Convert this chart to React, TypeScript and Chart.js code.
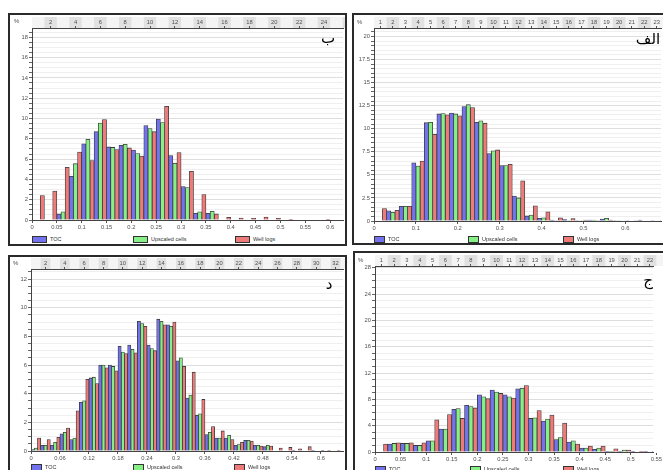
import React, { useEffect, useRef } from 'react';
import { Chart, registerables } from 'chart.js';

Chart.register(...registerables);

const SERIES_NAMES = ['TOC', 'Upscaled cells', 'Well logs'];
const SERIES_COLORS = ['#7373f0', '#86f086', '#ee7a7a'];
const FONT = "'Liberation Sans', Arial, sans-serif";
const LABEL_COLOR = '#505050';

// ---- Panel ب ----
const binB = 0.025;
const tocB = [0, 0, 0.6, 4.3, 7.5, 8.7, 7.2, 7.35, 6.9, 9.3, 9.95, 6.35, 3.3, 0.65, 0.65, 0, 0, 0, 0, 0, 0, 0, 0, 0];
const upscaledB = [0, 0, 0.8, 5.55, 7.95, 9.55, 7.15, 7.45, 6.55, 9.0, 9.6, 5.6, 3.2, 0.8, 0.85, 0, 0, 0, 0, 0, 0, 0, 0, 0];
const wellB = [2.4, 2.85, 5.2, 6.7, 5.85, 9.9, 6.95, 7.1, 6.3, 8.7, 11.2, 6.65, 4.8, 2.5, 0.6, 0.27, 0.2, 0.17, 0.3, 0.17, 0.07, 0, 0, 0.07];
const xLabelsB = [0, 0.05, 0.1, 0.15, 0.2, 0.25, 0.3, 0.35, 0.4, 0.45, 0.5, 0.55, 0.6];
const topLabelsB = [2, 4, 6, 8, 10, 12, 14, 16, 18, 20, 22, 24];
const yLabelsB = [0, 2, 4, 6, 8, 10, 12, 14, 16, 18];

// ---- Panel الف ----
const binA = 0.03;
const tocA = [0, 1.1, 1.6, 6.3, 10.65, 11.6, 11.7, 12.4, 10.7, 7.3, 6.0, 2.7, 0.55, 0.3, 0.1, 0.15, 0.05, 0.1, 0.2, 0.05, 0.05, 0.1, 0.05];
const upscaledA = [0, 0.95, 1.6, 5.95, 10.7, 11.65, 11.6, 12.6, 10.85, 7.6, 6.0, 2.5, 0.65, 0.35, 0.05, 0.05, 0.05, 0.1, 0.3, 0.05, 0, 0, 0];
const wellA = [1.35, 1.15, 1.6, 6.5, 9.4, 11.5, 11.4, 12.3, 10.6, 7.7, 6.15, 4.35, 1.65, 1.0, 0.35, 0.25, 0.1, 0.05, 0.1, 0, 0.05, 0, 0.05];
const xLabelsA = [0, 0.1, 0.2, 0.3, 0.4, 0.5, 0.6];
const topLabelsA = [1, 2, 3, 4, 5, 6, 7, 8, 9, 10, 11, 12, 13, 14, 15, 16, 17, 18, 19, 20, 21, 22, 23];
const yLabelsA = [0, 2.5, 5, 7.5, 10, 12.5, 15, 17.5, 20];

// ---- Panel د ----
const binD = 0.02;
const tocD = [0.1, 0.4, 0.4, 1.2, 0.8, 3.4, 5.1, 6.0, 6.0, 7.3, 7.4, 9.05, 7.4, 9.2, 8.8, 6.3, 3.7, 2.5, 1.15, 0.9, 0.9, 0.4, 0.75, 0.4, 0.3, 0, 0, 0.05, 0, 0.05, 0.05, 0];
const upscaledD = [0.2, 0.4, 0.6, 1.3, 0.9, 3.5, 5.15, 6.0, 5.9, 6.9, 7.1, 8.9, 7.15, 9.05, 8.7, 6.5, 3.9, 2.6, 1.3, 0.9, 1.1, 0.45, 0.75, 0.4, 0.4, 0, 0, 0, 0, 0, 0, 0];
const wellD = [0.9, 0.8, 0.95, 1.6, 2.8, 5.0, 4.7, 5.8, 5.6, 6.8, 6.85, 8.7, 7.0, 8.8, 9.0, 5.9, 5.5, 3.6, 1.7, 1.4, 0.8, 0.6, 0.7, 0.35, 0.35, 0.2, 0.25, 0.15, 0.3, 0, 0.05, 0.05];
const xLabelsD = [0, 0.06, 0.12, 0.18, 0.24, 0.3, 0.36, 0.42, 0.48, 0.54, 0.6];
const topLabelsD = [2, 4, 6, 8, 10, 12, 14, 16, 18, 20, 22, 24, 26, 28, 30, 32];
const yLabelsD = [0, 2, 4, 6, 8, 10, 12];

// ---- Panel ج ----
const binJ = 0.025;
const tocJ = [0, 1.2, 1.3, 1.0, 1.7, 3.5, 6.5, 7.1, 8.7, 9.4, 8.7, 9.6, 5.1, 4.7, 1.9, 1.5, 0.6, 0.4, 0.1, 0.1, 0.05, 0.1];
const upscaledJ = [0, 1.3, 1.3, 1.0, 1.7, 3.5, 6.6, 6.9, 8.4, 9.1, 8.4, 9.7, 5.2, 5.0, 2.2, 1.7, 0.6, 0.6, 0.05, 0.3, 0, 0];
const wellJ = [1.2, 1.4, 1.4, 1.4, 4.9, 5.7, 5.1, 6.7, 8.1, 8.9, 8.2, 10.1, 6.3, 5.6, 4.4, 1.2, 0.9, 0.9, 0.5, 0.3, 0.05, 0.05];
const xLabelsJ = [0, 0.05, 0.1, 0.15, 0.2, 0.25, 0.3, 0.35, 0.4, 0.45, 0.5, 0.55];
const topLabelsJ = [1, 2, 3, 4, 5, 6, 7, 8, 9, 10, 11, 12, 13, 14, 15, 16, 17, 18, 19, 20, 21, 22];
const yLabelsJ = [0, 4, 8, 12, 16, 20, 24, 28];

type PanelDef = {
  key: string;
  letter: string;
  box: { x: number; y: number; w: number; h: number };
  canvas: { x: number; y: number; w: number; h: number };
  x0: number; ppu: number; right: number;
  yZero: number; ppy: number; top: number; stripTop: number;
  bin: number;
  series: number[][];
  xLabels: number[]; topLabels: number[]; yLabels: number[]; yMinor: number;
  legendXs: number[]; legendY: number; legendBoxW: number;
  letterPos: { cx: number; cy: number };
  pct: { x: number; y: number };
};

const PANELS: PanelDef[] = [
  {
    key: 'b', letter: 'ب',
    box: { x: 8, y: 13, w: 339, h: 233 },
    canvas: { x: 10, y: 15, w: 335, h: 218 },
    x0: 32, ppu: 497, right: 343, yZero: 220, ppy: 10.15, top: 28, stripTop: 17,
    bin: binB, series: [tocB, upscaledB, wellB],
    xLabels: xLabelsB, topLabels: topLabelsB, yLabels: yLabelsB, yMinor: 0.5,
    legendXs: [32, 133, 235], legendY: 235, legendBoxW: 15,
    letterPos: { cx: 328, cy: 42 }, pct: { x: 14, y: 17 },
  },
  {
    key: 'a', letter: 'الف',
    box: { x: 352, y: 13, w: 330, h: 232 },
    canvas: { x: 352, y: 15, w: 311, h: 220 },
    x0: 374, ppu: 419, right: 661, yZero: 221, ppy: 9.23, top: 28, stripTop: 17,
    bin: binA, series: [tocA, upscaledA, wellA],
    xLabels: xLabelsA, topLabels: topLabelsA, yLabels: yLabelsA, yMinor: 0.5,
    legendXs: [374, 468, 563], legendY: 235, legendBoxW: 11,
    letterPos: { cx: 648, cy: 43 }, pct: { x: 357, y: 18 },
  },
  {
    key: 'd', letter: 'د',
    box: { x: 8, y: 255, w: 339, h: 240 },
    canvas: { x: 10, y: 257, w: 335, h: 215 },
    x0: 31, ppu: 483.3, right: 343, yZero: 451, ppy: 14.33, top: 269, stripTop: 258,
    bin: binD, series: [tocD, upscaledD, wellD],
    xLabels: xLabelsD, topLabels: topLabelsD, yLabels: yLabelsD, yMinor: 0.5,
    legendXs: [31, 133, 234], legendY: 463, legendBoxW: 11,
    letterPos: { cx: 329, cy: 288 }, pct: { x: 13, y: 259 },
  },
  {
    key: 'j', letter: 'ج',
    box: { x: 353, y: 251, w: 330, h: 240 },
    canvas: { x: 353, y: 253, w: 310, h: 215 },
    x0: 375, ppu: 526, right: 661, yZero: 452, ppy: 6.58, top: 266, stripTop: 255,
    bin: binJ, series: [tocJ, upscaledJ, wellJ],
    xLabels: xLabelsJ, topLabels: topLabelsJ, yLabels: yLabelsJ, yMinor: 1,
    legendXs: [375, 470, 563], legendY: 465, legendBoxW: 11,
    letterPos: { cx: 648, cy: 284 }, pct: { x: 358, y: 256 },
  },
];

const fmt = (v: number) => String(parseFloat(v.toFixed(4)));

const stripPlugin = {
  id: 'strip',
  beforeDraw(chart: any, _args: any, opts: any) {
    const s = chart.scales.xTop;
    if (!s) return;
    const ctx = chart.ctx;
    const bin = opts.bin as number;
    ctx.save();
    ctx.fillStyle = '#f4f4f4';
    ctx.fillRect(s.left, s.top, chart.width - s.left, s.bottom - s.top);
    const n = Math.ceil(s.max / bin) + 2;
    ctx.fillStyle = '#e1e1e1';
    for (let i = 0; i < n; i++) {
      if ((i + 1) % 2 === 0) {
        const a = s.getPixelForValue(i * bin);
        const b = Math.min(s.getPixelForValue((i + 1) * bin), chart.width);
        if (b > a) ctx.fillRect(a, s.top, b - a, s.bottom - s.top);
      }
    }
    ctx.restore();
  },
};

function Panel({ p }: { p: PanelDef }) {
  const ref = useRef<HTMLCanvasElement | null>(null);
  useEffect(() => {
    const canvas = ref.current;
    if (!canvas) return;
    const xMax = (p.right - p.x0) / p.ppu;
    const yMax = (p.yZero - p.top) / p.ppy;
    const yTicks: number[] = [];
    for (let k = 0; k * p.yMinor <= yMax + 1e-9; k++) yTicks.push(Number((k * p.yMinor).toFixed(4)));
    const isMajor = (v: number) => p.yLabels.some((m) => Math.abs(m - v) < 1e-6);
    const font = { family: FONT, size: 5.8 };
    const pad = {
      left: 0,
      top: p.stripTop - p.canvas.y,
      right: p.canvas.x + p.canvas.w - p.right,
      bottom: p.canvas.y + p.canvas.h - (p.yZero + 12),
    };
    const chart = new Chart(canvas, {
      type: 'bar',
      data: {
        datasets: p.series.map((vals, si) => ({
          label: SERIES_NAMES[si],
          data: vals.map((v, i) => ({ x: (i + 0.5) * p.bin, y: v > 0 ? v : null })),
          backgroundColor: SERIES_COLORS[si],
          borderColor: '#3a3a3a',
          borderWidth: 0.8,
          barPercentage: 1,
          categoryPercentage: 1,
        })),
      } as any,
      options: {
        animation: false,
        responsive: false,
        maintainAspectRatio: false,
        layout: { padding: pad },
        plugins: {
          legend: { display: false },
          tooltip: { enabled: false },
          strip: { bin: p.bin },
        } as any,
        scales: {
          x: {
            type: 'linear',
            position: 'bottom',
            min: 0,
            max: xMax,
            offset: false,
            afterBuildTicks: (s: any) => { s.ticks = p.xLabels.map((v) => ({ value: v })); },
            afterFit: (s: any) => { s.height = 12; },
            ticks: { autoSkip: false, maxRotation: 0, color: LABEL_COLOR, font, padding: 1, callback: (v: any) => fmt(Number(v)) },
            grid: { offset: false, drawOnChartArea: false, tickLength: 3, tickColor: '#555' },
            border: { color: '#444', width: 1 },
          },
          xTop: {
            type: 'linear',
            position: 'top',
            min: 0,
            max: xMax,
            offset: false,
            afterBuildTicks: (s: any) => { s.ticks = p.topLabels.map((n) => ({ value: (n - 0.5) * p.bin })).filter((t) => t.value <= xMax); },
            afterFit: (s: any) => { s.height = p.top - p.stripTop; },
            ticks: { autoSkip: false, maxRotation: 0, color: LABEL_COLOR, font, padding: 0, callback: (v: any) => String(Math.round(Number(v) / p.bin + 0.5)) },
            grid: { offset: false, drawOnChartArea: false, tickLength: 2, tickColor: '#555' },
            border: { color: '#444', width: 1 },
          },
          y: {
            type: 'linear',
            min: 0,
            max: yMax,
            afterBuildTicks: (s: any) => { s.ticks = yTicks.map((v) => ({ value: v })); },
            afterFit: (s: any) => { s.width = p.x0 - p.canvas.x; },
            ticks: { autoSkip: false, color: LABEL_COLOR, font, padding: 1, callback: (v: any) => (isMajor(Number(v)) ? fmt(Number(v)) : '') },
            grid: {
              color: (c: any) => (c.tick && isMajor(c.tick.value) ? '#dedede' : '#efefef'),
              tickLength: 3,
              tickColor: '#666',
            },
            border: { color: '#444', width: 1 },
          },
        } as any,
      },
      plugins: [stripPlugin],
    });
    return () => chart.destroy();
  }, [p]);

  return (
    <>
      <div
        style={{
          position: 'absolute', left: p.box.x, top: p.box.y, width: p.box.w, height: p.box.h,
          border: '2px solid #2a2a2a', boxSizing: 'border-box',
        }}
      />
      <canvas
        ref={ref}
        width={p.canvas.w}
        height={p.canvas.h}
        style={{ position: 'absolute', left: p.canvas.x, top: p.canvas.y, width: p.canvas.w, height: p.canvas.h, display: 'block' }}
      />
      <div style={{ position: 'absolute', left: p.pct.x, top: p.pct.y, fontFamily: FONT, fontSize: 6, color: LABEL_COLOR, lineHeight: '8px' }}>%</div>
      <div
        style={{
          position: 'absolute', left: p.letterPos.cx - 25, top: p.letterPos.cy - 14, width: 50, textAlign: 'center',
          fontFamily: "'DejaVu Sans', sans-serif", fontSize: 15, lineHeight: '20px', color: '#000', direction: 'rtl',
        }}
      >
        {p.letter}
      </div>
      {SERIES_NAMES.map((name, i) => (
        <div key={name} style={{ position: 'absolute', left: p.legendXs[i], top: p.legendY, height: 8, display: 'flex', alignItems: 'center' }}>
          <div style={{ width: p.legendBoxW, height: 7, background: SERIES_COLORS[i], border: '1px solid #333', boxSizing: 'border-box' }} />
          <span style={{ marginLeft: 3, fontFamily: FONT, fontSize: 5.5, color: '#333', whiteSpace: 'nowrap' }}>{name}</span>
        </div>
      ))}
    </>
  );
}

export default function App() {
  return (
    <div style={{ position: 'fixed', left: 0, top: 0, width: 663, height: 470, overflow: 'hidden', background: '#fff' }}>
      {PANELS.map((p) => (
        <Panel key={p.key} p={p} />
      ))}
    </div>
  );
}
